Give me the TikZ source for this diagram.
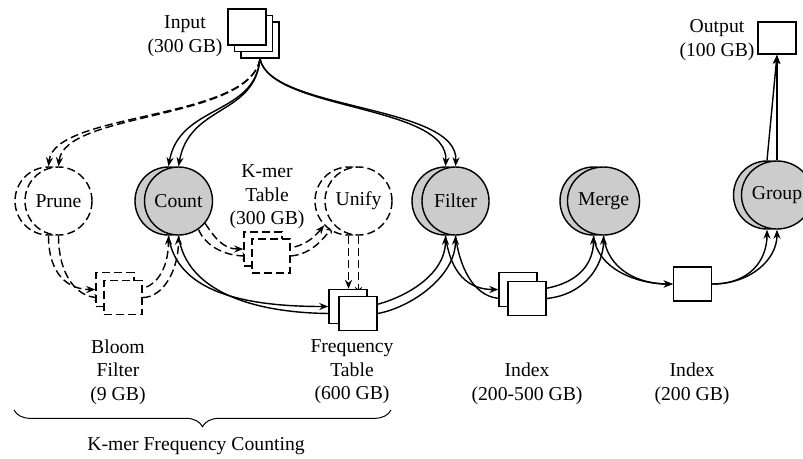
\documentclass[tikz,border=0pt]{standalone}
\usepackage{fontspec}
\setmainfont{Liberation Serif}
\usetikzlibrary{arrows.meta,shapes.geometric,decorations.pathreplacing,calc}
\pgfdeclarelayer{bg}
\pgfsetlayers{bg,main}
\tikzset{
  procbase/.style={ellipse, draw, line width=0.85pt, minimum width=40.2pt, minimum height=40.8pt, inner sep=0pt},
  procgray/.style={procbase, fill=black!20},
  procdash/.style={procbase, fill=white, dash pattern=on 4.8pt off 2.4pt},
  databox/.style={rectangle, draw, line width=0.85pt, fill=white, minimum width=22.8pt, minimum height=20.4pt, inner sep=0pt},
  dashbox/.style={databox, dash pattern=on 4.8pt off 2.4pt},
  inbox/.style={databox, minimum height=21.6pt},
  outbox/.style={databox, minimum height=19.4pt},
  lbl/.style={align=center, inner sep=0pt},
  conn/.style={line width=0.85pt, -{Stealth[length=5.4pt,width=4.2pt]}},
  dconn/.style={conn, dash pattern=on 4.8pt off 2.4pt},
}
\begin{document}
\begin{tikzpicture}[x=0.6pt,y=-0.6pt,font=\fontsize{11.8}{14.1}\selectfont]
\useasboundingbox (0,0) rectangle (803,458);
\clip (0,0) rectangle (803,458);

% processes
\node[procdash] (pruneb) at (48.5,201) {};
\node[procdash] (prune)  at (58.5,201) {Prune};
\node[procgray] (countb) at (168.5,201) {};
\node[procgray] (count)  at (178.5,201) {Count};
\node[procdash] (unifyb) at (348.5,201) {};
\node[procdash] (unify)  at (358.5,201) {Unify};
\node[procgray] (filterb) at (445.5,201) {};
\node[procgray] (filter)  at (455.5,201) {Filter};
\node[procgray] (mergeb) at (593.5,201) {};
\node[procgray] (merge)  at (603.5,201) {Merge};
\node[procgray] (groupb) at (767,195) {};
\node[procgray] (group)  at (777,195) {Group};

% data
\node[inbox] (in3) at (260,40) {};
\node[inbox] (in2) at (253.5,33.5) {};
\node[inbox] (in1) at (247,27) {};
\node[outbox] (output) at (777,38) {};
\node[dashbox] (bloomb) at (115,289.5) {};
\node[dashbox] (bloom)  at (123,297.5) {};
\node[dashbox] (kmerb) at (263,249) {};
\node[dashbox] (kmer)  at (271,256) {};
\node[databox] (freqb) at (348,306.5) {};
\node[databox] (freq)  at (358,313.5) {};
\node[databox] (indexb) at (518,289.5) {};
\node[databox] (index)  at (527,298.5) {};
\node[databox] (index2) at (692.5,284) {};

% labels
\node[lbl] (inlbl) at (185,36) {Input\\(300 GB)};
\node[lbl] (outlbl) at (717,40) {Output\\(100 GB)};
\node[lbl] (kmerlbl) at (267,197) {K-mer\\Table\\(300 GB)};
\node[lbl] (bloomlbl) at (118,372) {Bloom\\Filter\\(9 GB)};
\node[lbl] (freqlbl) at (352,372) {Frequency\\Table\\(600 GB)};
\node[lbl] (idxlbl) at (527,384) {Index\\(200-500 GB)};
\node[lbl] (idx2lbl) at (692,384) {Index\\(200 GB)};
\node[lbl] (kfc) at (196,446) {K-mer Frequency Counting};

\coordinate (braceL) at (14,410);
\coordinate (braceR) at (391,410);
\draw[decorate, decoration={brace, amplitude=10pt}, line width=0.6pt] (braceR) -- (braceL);

\begin{pgfonlayer}{bg}
% input -> prune
\draw[dconn] (in3.south) .. controls +(-10,62) and +(6,-55) .. (pruneb.north);
\draw[dconn] (in3.south) .. controls +(-10,62) and +(6,-55) .. (prune.north);
% input -> count
\draw[conn] (in3.south) .. controls +(-5,57) and +(11,-62) .. (countb.north);
\draw[conn] (in3.south) .. controls +(-5,57) and +(11,-62) .. (count.north);
% input -> filter
\draw[conn] (in3.south) .. controls +(10,52) and +(4,-62) .. (filterb.north);
\draw[conn] (in3.south) .. controls +(10,52) and +(4,-62) .. (filter.north);
% prune -> bloom
\draw[dconn] (pruneb.south) .. controls +(0,40) and +(-26,0) .. (bloomb.west);
\draw[dconn] (prune.south) .. controls +(0,40) and +(-26,0) .. (bloom.west);
% bloom -> count
\draw[dconn] (bloomb.east) .. controls +(20,0) and +(0,35) .. (countb.south);
\draw[dconn] (bloom.east) .. controls +(20,0) and +(0,35) .. (count.south);
% count -> kmer
\draw[dconn] (count.-40) .. controls +(10,15) and +(-20,0) .. (kmerb.west);
\draw[dconn] (count.-55) .. controls +(8,18) and +(-25,0) .. (kmer.west);
% kmer -> unify
\draw[dconn] (kmerb.east) .. controls +(22,-2) and +(-10,12) .. (unifyb.-135);
\draw[dconn] (kmer.east) .. controls +(22,-2) and +(-10,12) .. (unify.-135);
% unify -> freq
\draw[dconn] (unifyb.south) -- (unifyb.south |- freqb.north);
\draw[dconn] (unify.south) -- (unify.south |- freq.north);
% count -> freq
\draw[conn] (countb.south) .. controls +(8,58) and +(-80,0) .. (freqb.west);
\draw[conn] (count.south) .. controls +(8,58) and +(-80,0) .. (freq.west);
% freq -> filter
\draw[conn] (freqb.east) .. controls +(33,-6) and +(0,41) .. (filterb.south);
\draw[conn] (freq.east) .. controls +(33,-6) and +(0,41) .. (filter.south);
% filter -> index
\draw[conn] (filterb.south) .. controls +(5,38) and +(-30,0) .. (indexb.west);
\draw[conn] (filter.south) .. controls +(5,38) and +(-30,0) .. (index.west);
% index -> merge
\draw[conn] (indexb.east) .. controls +(38,-4) and +(0,30) .. (mergeb.south);
\draw[conn] (index.east) .. controls +(38,-4) and +(0,30) .. (merge.south);
% merge -> index2
\draw[conn] (mergeb.south) .. controls +(4,35) and +(-33,0) .. (index2.west);
\draw[conn] (merge.south) .. controls +(4,35) and +(-33,0) .. (index2.west);
% index2 -> group
\draw[conn] (index2.east) .. controls +(38,0) and +(0,30) .. (groupb.south);
\draw[conn] (index2.east) .. controls +(38,0) and +(0,30) .. (group.south);
% group -> output
\draw[conn] (groupb.north) -- (output.south);
\draw[conn] (group.north) -- (output.south);
\end{pgfonlayer}
\end{tikzpicture}
\end{document}
